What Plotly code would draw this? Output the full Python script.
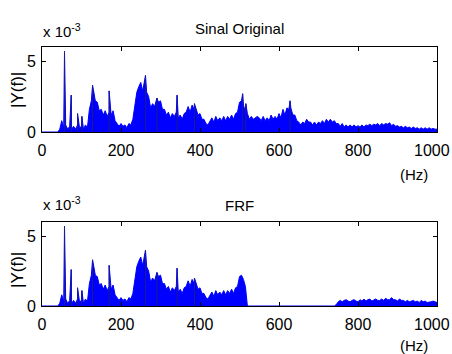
import plotly.graph_objects as go

# ---------------- data (amplitudes in units of 1e-3) ----------------
freq = list(range(0, 1001, 5))

orig_amp = [
    0, 0, 0, 0, 0, 0, 0, 0, 0, 0.2,                       # 0-45
    0.8, 0.3, 0.5, 0.2, 0.4, 0.2, 0.4, 0.2, 0.5, 0.3,      # 50-95
    0.4, 0.2, 0.5, 0.3, 1.6, 2.2, 3.0, 2.2, 2.1, 1.5,      # 100-145
    1.6, 1.2, 1.5, 1.1, 1.4, 1.2, 1.5, 0.8, 0.6, 0.4,      # 150-195
    0.6, 0.4, 0.5, 0.3, 0.6, 0.5, 0.9, 2.0, 2.8, 3.2,      # 200-245
    3.5, 2.9, 3.6, 2.8, 2.5, 1.7, 2.0, 1.8, 2.4, 2.1,      # 250-295
    2.2, 1.6, 1.6, 1.2, 1.4, 1.0, 1.3, 1.1, 1.4, 1.0,      # 300-345
    1.2, 0.9, 1.3, 1.4, 1.8, 1.4, 1.9, 1.6, 1.7, 1.2,      # 350-395
    1.3, 0.9, 0.9, 0.6, 0.5, 0.8, 1.0, 0.7, 1.1, 0.8,      # 400-445
    1.0, 0.8, 1.1, 0.8, 1.1, 0.9, 1.2, 0.9, 1.3, 1.4,      # 450-495
    2.1, 2.2, 1.9, 1.4, 1.3, 0.9, 1.1, 0.9, 1.0, 1.1,      # 500-545
    1.0, 0.8, 1.1, 0.8, 1.0, 0.8, 1.2, 0.9, 1.1, 0.9,      # 550-595
    1.3, 1.0, 1.6, 1.2, 1.7, 1.6, 1.7, 1.2, 1.2, 0.8,      # 600-645
    0.7, 0.5, 0.7, 0.6, 0.9, 0.7, 0.7, 0.5, 0.7, 0.5,      # 650-695
    0.7, 0.6, 0.8, 0.6, 0.9, 0.7, 0.9, 0.7, 0.8, 0.6,      # 700-745
    0.6, 0.4, 0.6, 0.35, 0.5, 0.35, 0.5, 0.35, 0.5, 0.35,  # 750-795
    0.45, 0.35, 0.5, 0.35, 0.5, 0.45, 0.55, 0.45, 0.55, 0.5,  # 800-845
    0.6, 0.45, 0.6, 0.5, 0.6, 0.55, 0.65, 0.45, 0.55, 0.4,  # 850-895
    0.45, 0.35, 0.4, 0.3, 0.4, 0.3, 0.35, 0.25, 0.35, 0.25,  # 900-945
    0.3, 0.2, 0.3, 0.2, 0.3, 0.2, 0.3, 0.2, 0.25, 0.2,      # 950-995
    0.2,                                                   # 1000
]
orig_spike_f = [57, 74, 90, 101, 128, 170, 262, 291, 342, 386, 508, 516, 628]
orig_spike_a = [5.7, 2.6, 1.3, 1.1, 3.3, 2.9, 4.0, 2.4, 2.6, 2.0, 2.7, 2.0, 2.2]

frf_zero = [0] * 45          # 520-740 Hz
frf_high = [                 # 745-1000 Hz
    0.1, 0.3, 0.4, 0.3, 0.4, 0.45, 0.35, 0.3, 0.4, 0.45,
    0.35, 0.3, 0.45, 0.35, 0.5, 0.35, 0.45, 0.5, 0.35, 0.45,
    0.5, 0.4, 0.4, 0.5, 0.4, 0.55, 0.45, 0.45, 0.6, 0.45,
    0.45, 0.35, 0.5, 0.4, 0.4, 0.3, 0.4, 0.3, 0.35, 0.4,
    0.3, 0.35, 0.25, 0.4, 0.3, 0.35, 0.25, 0.25, 0.3, 0.35,
    0.3, 0.25,
]
frf_amp = orig_amp[:104] + frf_zero + frf_high
frf_spike_f = [57, 74, 90, 101, 128, 170, 262, 291, 342, 386]
frf_spike_a = [5.7, 2.6, 1.3, 1.1, 3.3, 2.9, 4.0, 2.4, 2.7, 2.0]

x_ticks = [0, 200, 400, 600, 800, 1000]
x_tick_text = ["0", "200", "400", "600", "800", "1000"]
y_ticks = [0, 5]

# ---------------- figure ----------------
W, H = 452, 354
BLUE = "#0000ff"
FONT = "Liberation Sans Narrow, Arial Narrow, Liberation Sans, Arial, sans-serif"
TICK_SIZE = 16


def merged(f, a, sf, sa):
    pts = sorted(list(zip(f, a)) + list(zip(sf, sa)))
    return [p[0] for p in pts], [p[1] for p in pts]


def spikes(sf, sa):
    xs, ys = [], []
    for f, a in zip(sf, sa):
        xs += [f, f, None]
        ys += [0, a, None]
    return xs, ys


fig = go.Figure()
panels = [
    ("x", "y", orig_amp, orig_spike_f, orig_spike_a),
    ("x2", "y2", frf_amp, frf_spike_f, frf_spike_a),
]
for xa, ya, amp, sf, sa in panels:
    mx, my = merged(freq, amp, sf, sa)
    fig.add_trace(go.Scatter(x=mx, y=my, mode="lines", fill="tozeroy",
                             fillcolor=BLUE, line=dict(color=BLUE, width=1),
                             xaxis=xa, yaxis=ya, showlegend=False, hoverinfo="skip"))
    kx, ky = spikes(sf, sa)
    fig.add_trace(go.Scatter(x=kx, y=ky, mode="lines",
                             line=dict(color="#1c1c8c", width=1),
                             xaxis=xa, yaxis=ya, showlegend=False, hoverinfo="skip"))


def px(x, y):
    return x / W, 1 - y / H


xdom = [42 / W, 437 / W]
axis_common = dict(showline=True, linecolor="black", linewidth=1, mirror="allticks",
                   ticks="inside", ticklen=4, tickcolor="black", showgrid=False,
                   zeroline=False, automargin=False,
                   tickfont=dict(family=FONT, size=TICK_SIZE, color="black"))

# the last x tick label (at the right edge) is drawn as an annotation nudged left so it fits
fig.update_layout(
    width=W, height=H, margin=dict(l=0, r=0, t=0, b=0, autoexpand=False),
    paper_bgcolor="white", plot_bgcolor="white", showlegend=False,
    xaxis=dict(domain=xdom, range=[0, 1000.01], tickvals=x_ticks[:-1], ticktext=x_tick_text[:-1],
               anchor="y", ticklabelstandoff=4, **axis_common),
    yaxis=dict(domain=[1 - 132 / H, 1 - 47 / H], range=[0, 6], tickvals=y_ticks, anchor="x",
               ticklabelstandoff=2, **axis_common),
    xaxis2=dict(domain=xdom, range=[0, 1000.01], tickvals=x_ticks[:-1], ticktext=x_tick_text[:-1],
                anchor="y2", ticklabelstandoff=4, **axis_common),
    yaxis2=dict(domain=[1 - 306 / H, 1 - 222 / H], range=[0, 6], tickvals=y_ticks, anchor="x2",
                ticklabelstandoff=2, **axis_common),
)

ann = []
for xr, title, ty, expy, ylab_y, hz_y, tick_y in [
        ("x", "Sinal Original", 28, 42, 90, 175, 150),
        ("x2", "FRF", 205, 215, 270, 345, 324)]:
    x0, y0 = px(239, ty)
    ann.append(dict(text=title, x=x0, y=y0, xref="paper", xanchor="center", yanchor="middle",
                    font=dict(family=FONT, size=15, color="black")))
    x0, y0 = px(41, expy)
    ann.append(dict(text="x 10<sup>-3</sup>", x=x0, y=y0, xref="paper", xanchor="left",
                    yanchor="bottom", font=dict(family=FONT, size=15, color="black")))
    x0, y0 = px(17, ylab_y)
    ann.append(dict(text="|Y(f)|", x=x0, y=y0, xref="paper", xanchor="center", yanchor="middle",
                    textangle=-90, font=dict(family=FONT, size=17, color="black")))
    x0, y0 = px(414, hz_y)
    ann.append(dict(text="(Hz)", x=x0, y=y0, xref="paper", xanchor="center", yanchor="middle",
                    font=dict(family=FONT, size=15, color="black")))
    _, y0 = px(0, tick_y)
    ann.append(dict(text=x_tick_text[-1], x=x_ticks[-1], xref=xr, y=y0, xanchor="center",
                    yanchor="middle", xshift=-5,
                    font=dict(family=FONT, size=TICK_SIZE, color="black")))
for a in ann:
    a.update(yref="paper", showarrow=False)
fig.update_layout(annotations=ann)

fig.write_html("out.html")
